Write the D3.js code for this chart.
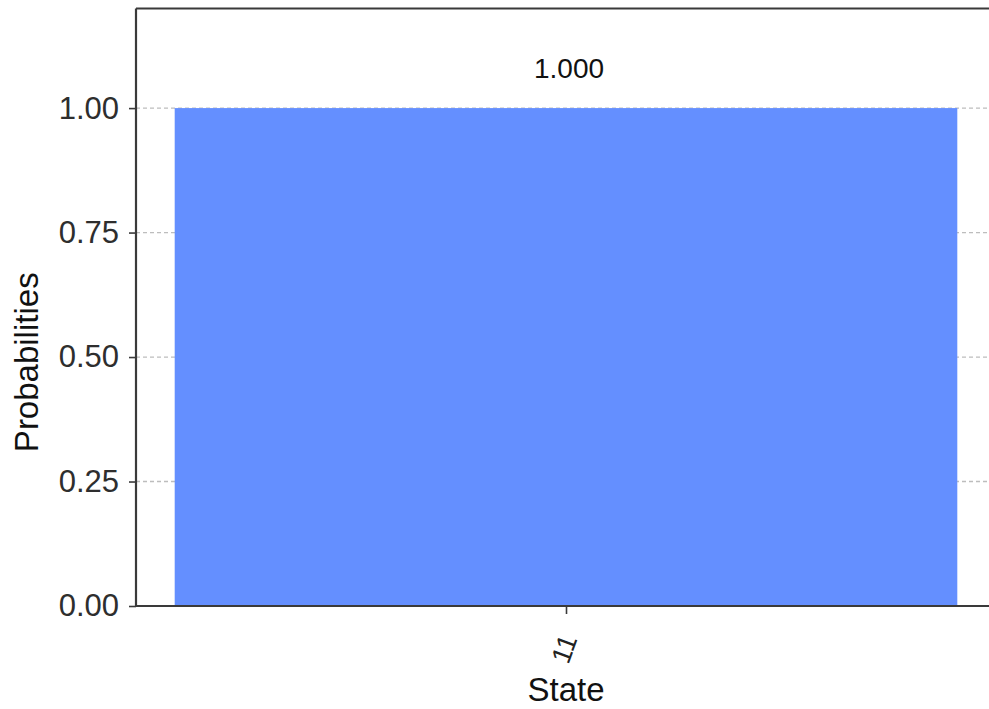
<!DOCTYPE html>
<html>
<head>
<meta charset="utf-8">
<script src="https://cdn.jsdelivr.net/npm/d3@7"></script>
<style>
  html, body { margin: 0; padding: 0; background: #fff; }
  svg { display: block; }
  text { font-family: "Liberation Sans", Arial, sans-serif; }
</style>
</head>
<body>
<svg id="chart" width="989" height="709"></svg>
<script>
// Measurement outcome probabilities
const states = ["11"];
const probabilities = [1.0];
const valueLabels = ["1.000"];
const yTicks = [0.00, 0.25, 0.50, 0.75, 1.00];

const W = 989, H = 709;
const plot = { left: 136, right: 996, top: 8.5, bottom: 606 };
const barWidth = 0.91; // in category units
const barColor = "#648fff";
const axisColor = "#3a3a3a";

const svg = d3.select("#chart");

const x = d3.scaleLinear()
  .domain([-0.5, states.length - 0.5])
  .range([plot.left, plot.right]);

const y = d3.scaleLinear()
  .domain([0, 1.2])
  .range([plot.bottom, plot.top]);

// dashed horizontal grid behind the bars
svg.append("g")
  .selectAll("line")
  .data(yTicks.filter(d => d > 0))
  .join("line")
  .attr("x1", plot.left).attr("x2", plot.right)
  .attr("y1", d => y(d)).attr("y2", d => y(d))
  .attr("stroke", "#bdbdbd")
  .attr("stroke-width", 1.3)
  .attr("stroke-dasharray", "4,3");

// bars
svg.append("g")
  .selectAll("rect")
  .data(states.map((s, i) => ({ s, i, v: probabilities[i] })))
  .join("rect")
  .attr("x", d => x(d.i - barWidth / 2))
  .attr("width", d => x(d.i + barWidth / 2) - x(d.i - barWidth / 2))
  .attr("y", d => y(d.v))
  .attr("height", d => y(0) - y(d.v))
  .attr("fill", barColor);

// value labels above bars
svg.append("g")
  .selectAll("text")
  .data(states.map((s, i) => ({ i, v: probabilities[i], label: valueLabels[i] })))
  .join("text")
  .attr("x", d => x(d.i) + 3)
  .attr("y", d => y(d.v) - 30)
  .attr("text-anchor", "middle")
  .attr("font-size", 28)
  .attr("fill", "#111")
  .text(d => d.label);

// y axis
const yAxis = svg.append("g")
  .attr("transform", `translate(${plot.left},0)`)
  .call(d3.axisLeft(y).tickValues(yTicks).tickFormat(d3.format(".2f")).tickSize(7).tickPadding(10));
yAxis.select(".domain").remove();
yAxis.selectAll(".tick line").attr("stroke", axisColor).attr("stroke-width", 1.6);
yAxis.selectAll(".tick text")
  .attr("font-size", 31)
  .attr("fill", "#2e2e2e")
  .style("font-family", "'Liberation Sans', Arial, sans-serif");

// x axis ticks and rotated state labels
const xAxis = svg.append("g")
  .attr("transform", `translate(0,${plot.bottom})`)
  .call(d3.axisBottom(x).tickValues(states.map((s, i) => i)).tickFormat(i => states[i]).tickSize(8));
xAxis.select(".domain").remove();
xAxis.selectAll(".tick line").attr("stroke", axisColor).attr("stroke-width", 1.6);
xAxis.selectAll(".tick text")
  .attr("font-size", 27)
  .attr("fill", "#222")
  .attr("text-anchor", "middle")
  .attr("dy", null)
  .attr("y", 0)
  .attr("transform", "translate(-2,43) rotate(-70)")
  .attr("dominant-baseline", "central")
  .style("font-family", "'Liberation Sans', Arial, sans-serif");

// frame
const frame = svg.append("g")
  .attr("stroke", axisColor)
  .attr("stroke-width", 2.2)
  .attr("fill", "none");
frame.append("line").attr("x1", plot.left).attr("x2", plot.left).attr("y1", plot.top).attr("y2", plot.bottom);
frame.append("line").attr("x1", plot.left).attr("x2", W).attr("y1", plot.top).attr("y2", plot.top);
frame.append("line").attr("x1", plot.left).attr("x2", W).attr("y1", plot.bottom).attr("y2", plot.bottom);

// axis titles
svg.append("text")
  .attr("transform", `translate(38,${(plot.top + plot.bottom) / 2 + 55}) rotate(-90)`)
  .attr("text-anchor", "middle")
  .attr("font-size", 33)
  .attr("fill", "#111")
  .text("Probabilities");

svg.append("text")
  .attr("x", x(0))
  .attr("y", 701)
  .attr("text-anchor", "middle")
  .attr("font-size", 33)
  .attr("fill", "#111")
  .text("State");
</script>
</body>
</html>
